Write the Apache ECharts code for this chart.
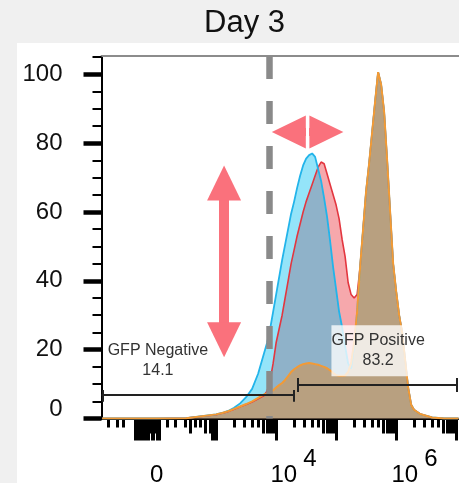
<!DOCTYPE html>
<html><head><meta charset="utf-8">
<script src="https://cdn.jsdelivr.net/npm/echarts@6/dist/echarts.min.js"></script>
<style>
html,body{margin:0;padding:0;background:#f0f0f0;}
#panel{position:absolute;left:17px;top:43px;width:442px;height:440px;background:#fff;}
#chart{position:absolute;left:0;top:0;width:459px;height:483px;}
</style></head><body>
<div id="panel"></div><div id="chart"></div>
<script>
// x positions in display (decade) units: 4 = 10^4, 6 = 10^6
const xPos = [1.1, 2.0, 2.5, 3.0, 3.1, 3.2, 3.3, 3.4, 3.5, 3.6, 3.7, 3.8,
  3.85, 3.9, 3.95, 4.0, 4.05, 4.1, 4.15, 4.2, 4.25, 4.3, 4.35, 4.4, 4.45, 4.5,
  4.55, 4.6, 4.65, 4.7, 4.75, 4.8, 4.85, 4.9, 4.95, 5.0, 5.05, 5.1, 5.15, 5.2,
  5.25, 5.3, 5.35, 5.4, 5.45, 5.5, 5.55, 5.6, 5.65, 5.7, 5.75, 5.8, 5.85, 5.9,
  5.95, 6.0, 6.05, 6.1, 6.15, 6.2, 6.25, 6.3, 6.4, 6.6, 6.8, 7.0, 7.04];
const redVals = [0, 0, 0.1, 1.1, 1.5, 2.0, 2.7, 3.4, 4.1, 4.8, 5.7, 6.7,
  8, 11, 16, 22, 26, 30, 35, 40, 45, 49, 53, 56.5, 60, 63,
  65.5, 68, 70.5, 73, 74.5, 74, 71, 68, 65, 62, 58, 52, 47, 39.5,
  36, 35, 36, 44, 55, 66, 74, 83, 92, 100.6, 97, 89, 75, 60,
  45, 37, 30, 25, 17, 9, 4, 2.5, 1.3, 0.3, 0, 0, 0];
const blueVals = [0, 0, 0.1, 1.2, 1.6, 2.2, 3.1, 4.4, 6.2, 8.6, 13, 19,
  22, 26, 31, 36, 41, 46, 50.5, 55, 59.5, 63, 67, 70.5, 73.5, 75.5,
  76.5, 77, 76, 72.5, 69, 64, 58.5, 51.5, 44, 37.5, 31, 26.5, 21, 16,
  14.5, 21, 31, 44, 55, 66, 74, 83, 92, 100.6, 97, 89, 75, 60,
  45, 37, 30, 25, 17, 9, 4, 2.5, 1.3, 0.3, 0, 0, 0];
const orangeVals = [0, 0, 0.1, 1.2, 1.6, 2.1, 2.8, 3.5, 4.2, 5.0, 6.0, 7.0,
  7.3, 7.6, 8.2, 9.0, 9.7, 10.3, 11.2, 12.3, 13.5, 14.3, 14.9, 15.4, 15.8, 16.0,
  16.1, 16.0, 15.8, 15.6, 15.3, 15.0, 14.6, 14.0, 13.2, 12.6, 12.4, 12.4, 12.5, 13.5,
  16, 22, 31, 44, 55, 66, 74, 83, 92, 100.6, 97, 89, 75, 60,
  45, 37, 30, 25, 17, 9, 4, 2.5, 1.3, 0.3, 0, 0, 0];

const yTickVals = [0, 20, 40, 60, 80, 100];
const yMinorVals = [5, 10, 15, 25, 30, 35, 45, 50, 55, 65, 70, 75, 85, 90, 95, 105];
const xLabelPos = [2.008, 4.29, 6.307];
const xLabelBase = ['0', '10', '10'];
const xLabelExp = ['', '4', '6'];
const decades = [3, 4, 5, 6];
const xLongTicks = [1.66, 1.69, 1.72, 1.75, 1.78, 1.84, 1.87, 1.93, 1.96, 2.02, 2.05, 2.93, 2.96, 3, 4, 5, 6, 7];
const xMediumExtra = [1.81, 1.90, 1.99, 2.567, 2.817, 2.9];
const xShortExtra = [1.205, 1.345, 1.455, 2.178, 2.317, 2.483, 2.65, 2.733];

const gateX = 3.892;
const gateNames = ['GFP Negative', 'GFP Positive'];
const gatePercents = ['14.1', '83.2'];

const xMin = 1.09, xMax = 7.048, yMax = 105.3;
const FONT = 'Liberation Sans, Arial, sans-serif';
const ARROW = '#fa717c';

const xMedium = xMediumExtra.slice();
const xShort = xShortExtra.slice();
decades.forEach(k => {
  [2, 3, 4, 5].forEach(m => xShort.push(k + Math.log10(m)));
  [6, 7, 8, 9].forEach(m => xMedium.push(k + Math.log10(m)));
});

function pairs(vals) { return xPos.map((x, i) => [x, vals[i]]); }

function baseX(extra) {
  return Object.assign({
    type: 'value', min: xMin, max: xMax, position: 'bottom', offset: 0,
    gridIndex: 0, splitLine: { show: false },
    axisLine: { show: false }, axisLabel: { show: false }, axisTick: { show: false }
  }, extra);
}

const chart = echarts.init(document.getElementById('chart'), null, { renderer: 'canvas' });
chart.setOption({
  animation: false,
  backgroundColor: 'transparent',
  title: {
    text: 'Day 3', left: 244.5, top: 8, textAlign: 'center', padding: 0,
    textStyle: { fontSize: 31, fontWeight: 'normal', color: '#111', fontFamily: FONT }
  },
  grid: { left: 101.5, top: 56, right: 0, bottom: 64.5, containLabel: false, outerBoundsMode: 'none' },
  xAxis: [
    baseX({
      axisLine: { show: true, lineStyle: { color: '#000', width: 2 } },
      axisTick: { show: true, customValues: xLongTicks, length: 22, lineStyle: { color: '#000', width: 3 } }
    }),
    baseX({ axisTick: { show: true, customValues: xMedium, length: 15, lineStyle: { color: '#000', width: 3 } } }),
    baseX({ axisTick: { show: true, customValues: xShort, length: 9, lineStyle: { color: '#000', width: 3 } } }),
    baseX({
      axisLabel: {
        show: true, customValues: xLabelPos, margin: 44.5, color: '#000',
        formatter: function (v) {
          let best = 0;
          xLabelPos.forEach((p, i) => { if (Math.abs(p - v) < Math.abs(xLabelPos[best] - v)) best = i; });
          const b = xLabelBase[best], e = xLabelExp[best];
          return e ? '{b|' + b + '}{s|' + e + '}' : '{b|' + b + '}';
        },
        rich: {
          b: { fontSize: 24, lineHeight: 24, padding: [16, 0, 16, 0], color: '#000', fontFamily: FONT },
          s: { fontSize: 24, lineHeight: 24, padding: [0, 0, 32, 6], color: '#000', fontFamily: FONT }
        }
      }
    }),
    baseX({ position: 'top', axisLine: { show: true, lineStyle: { color: '#8c8c8c', width: 2 } } })
  ],
  yAxis: [
    {
      type: 'value', min: 0, max: yMax, position: 'left', offset: 0,
      splitLine: { show: false },
      axisLine: { show: true, lineStyle: { color: '#000', width: 2 } },
      axisTick: { show: true, customValues: yTickVals, length: 18, lineStyle: { color: '#000', width: 4.5 } },
      axisLabel: {
        show: true, customValues: yTickVals, margin: 39, color: '#111', fontSize: 24, fontFamily: FONT,
        formatter: v => v === 0 ? '{z|0}' : String(v),
        rich: { z: { fontSize: 24, color: '#111', fontFamily: FONT, padding: [0, 0, 18, 0] } }
      }
    },
    {
      type: 'value', min: 0, max: yMax, position: 'left', offset: 0,
      splitLine: { show: false }, axisLine: { show: false }, axisLabel: { show: false },
      axisTick: { show: true, customValues: yMinorVals, length: 9, lineStyle: { color: '#000', width: 2 } }
    }
  ],
  series: [
    {
      name: 'red', type: 'line', data: pairs(redVals), showSymbol: false, symbol: 'none',
      lineStyle: { color: '#e3363f', width: 1.6 },
      areaStyle: { color: 'rgba(236,62,72,0.45)', opacity: 1 }, z: 2
    },
    {
      name: 'blue', type: 'line', data: pairs(blueVals), showSymbol: false, symbol: 'none',
      lineStyle: { color: '#22b4ea', width: 1.8 },
      areaStyle: { color: 'rgba(0,190,240,0.42)', opacity: 1 }, z: 2
    },
    {
      name: 'orange', type: 'line', data: pairs(orangeVals), showSymbol: false, symbol: 'none',
      lineStyle: { color: '#f39a35', width: 2 },
      areaStyle: { color: 'rgba(235,140,40,0.45)', opacity: 1 }, z: 2
    },
    {
      name: 'annotations', type: 'line', data: [], z: 5,
      markLine: {
        silent: true, animation: false, symbol: 'none', label: { show: false },
        lineStyle: { type: 'solid', color: '#222', width: 2 },
        data: [
          [{ coord: [gateX, yMax], lineStyle: { color: '#8a8a8a', width: 6.5, type: [23, 22] } }, { coord: [gateX, 0] }],
          [{ coord: [xMin, 6.8] }, { coord: [4.3, 6.8] }],
          [{ coord: [1.105, 8.3] }, { coord: [1.105, 4.9] }],
          [{ coord: [4.3, 8.3] }, { coord: [4.3, 4.9] }],
          [{ coord: [4.367, 9.7] }, { coord: [7.017, 9.7] }],
          [{ coord: [4.367, 11.8] }, { coord: [4.367, 7.7] }],
          [{ coord: [7.017, 11.8] }, { coord: [7.017, 7.7] }],
          [{ coord: [3.133, 68.4], symbol: 'triangle', symbolSize: [34, 35], lineStyle: { color: ARROW, width: 10 }, itemStyle: { color: ARROW } },
           { coord: [3.133, 22.9], symbol: 'triangle', symbolSize: [34, 35] }],
          [{ coord: [4.212, 83.2], symbol: 'triangle', symbolSize: [33, 34], lineStyle: { color: ARROW, width: 8 }, itemStyle: { color: ARROW } },
           { coord: [4.838, 83.2], symbol: 'triangle', symbolSize: [33, 34] }],
          [{ coord: [4.522, 88.1], lineStyle: { color: '#ffffff', width: 3 } }, { coord: [4.522, 78.5] }]
        ]
      },
      markPoint: {
        silent: true, animation: false, symbol: 'rect', symbolSize: 1,
        itemStyle: { color: 'rgba(0,0,0,0)' },
        data: [
          { coord: [2.03, 16.8], label: { show: true, position: 'inside', formatter: gateNames[0] + '\n' + gatePercents[0], fontSize: 16, lineHeight: 20, color: '#333', fontFamily: FONT, align: 'center' } },
          { coord: [5.7, 19.7], label: { show: true, position: 'inside', formatter: gateNames[1] + '\n' + gatePercents[1], fontSize: 16, lineHeight: 20, color: '#333', fontFamily: FONT, align: 'center', backgroundColor: 'rgba(255,255,255,0.78)', padding: [4, 0, 7, 0] } }
        ]
      }
    }
  ]
});
</script></body></html>
